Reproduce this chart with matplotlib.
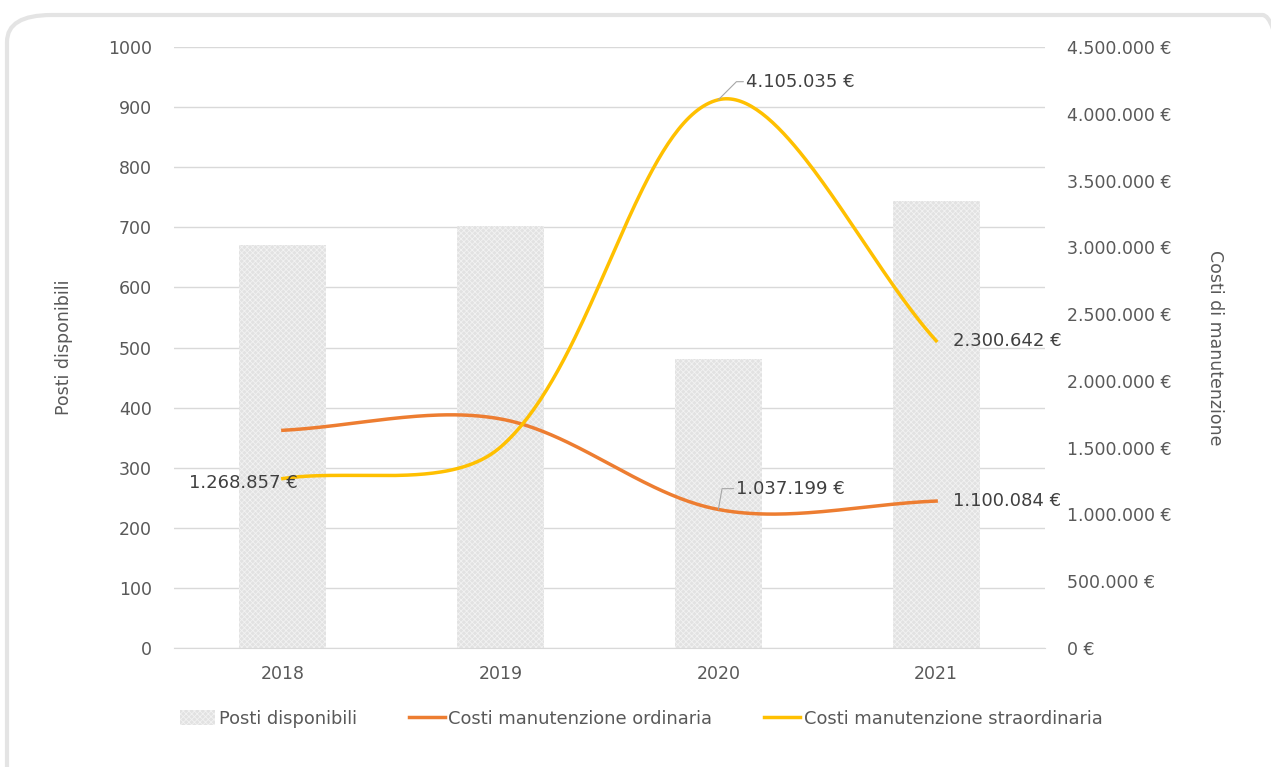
import numpy as np
import matplotlib
matplotlib.use("Agg")
import matplotlib.pyplot as plt
from matplotlib.patches import FancyBboxPatch
from matplotlib.ticker import FuncFormatter

plt.rcParams['font.family'] = ['DejaVu Sans']
plt.rcParams['hatch.linewidth'] = 0.6

# data
anni = ["2018", "2019", "2020", "2021"]
posti = [671, 702, 481, 744]
costi_ordinaria = [1630000, 1715000, 1037199, 1100084]
costi_straordinaria = [1268857, 1505000, 4105035, 2300642]

GRAY = "#595959"
GRID = "#d9d9d9"
ORANGE = "#ed7d31"
YELLOW = "#ffc000"
FS = 12.5


def smooth(axis, x, y, n=80):
    # Excel-like smoothed line: bezier through the points, tangents
    # split by the on-screen length of the neighbouring segments
    pts = axis.transData.transform(np.column_stack([x, y]).astype(float))
    m = len(pts)
    d = np.linalg.norm(np.diff(pts, axis=0), axis=1)
    out = []
    for i in range(m - 1):
        p1, p2 = pts[i], pts[i + 1]
        p0 = pts[i - 1] if i > 0 else p1
        p3 = pts[i + 2] if i + 2 < m else p2
        d0 = d[i - 1] if i > 0 else 0.0
        d2 = d[i + 1] if i + 2 < m else 0.0
        c1 = p1 + (p2 - p0) / 3 * d[i] / (d0 + d[i])
        c2 = p2 - (p3 - p1) / 3 * d[i] / (d[i] + d2)
        t = np.linspace(0, 1, n)[:, None]
        out.append((1 - t) ** 3 * p1 + 3 * (1 - t) ** 2 * t * c1
                   + 3 * (1 - t) * t ** 2 * c2 + t ** 3 * p2)
    seg = axis.transData.inverted().transform(np.vstack(out))
    return seg[:, 0], seg[:, 1]


def euro(v, pos=None):
    return f"{int(round(v)):,}".replace(",", ".") + " €"


fig = plt.figure(figsize=(12.71, 7.67), dpi=100)

# rounded frame around the chart (runs off the right and bottom edges)
frame = FancyBboxPatch((7 / 1271, -0.2), 1300 / 1271, 1.2 - 15 / 767,
                       boxstyle="round,pad=0,rounding_size=0.035",
                       transform=fig.transFigure, facecolor="none",
                       edgecolor="#e4e4e4", linewidth=3, zorder=-1)
fig.patches.append(frame)

ax = fig.add_axes([174 / 1271, 1 - 648 / 767, (1045 - 174) / 1271, (648 - 47) / 767])
ax.set_facecolor("none")
x = np.arange(len(anni))

bars = ax.bar(x, posti, width=0.4, color="#e2e2e2", edgecolor="#f2f2f2", hatch="xxxxxx",
              linewidth=0, zorder=2, label="Posti disponibili")
ax.set_xlim(-0.5, len(anni) - 0.5)
ax.set_ylim(0, 1000)
ax.set_yticks(np.arange(0, 1001, 100))
ax.grid(axis="y", color=GRID, linewidth=1, zorder=0)
ax.set_axisbelow(True)
ax.set_xticks(x)
ax.set_xticklabels(anni)
ax.tick_params(length=0, colors=GRAY, labelsize=FS)
ax.tick_params(axis="y", pad=16)
ax.tick_params(axis="x", pad=12)
for s in ax.spines.values():
    s.set_visible(False)
ax.spines["bottom"].set_visible(True)
ax.spines["bottom"].set_color(GRID)
ax.set_ylabel("Posti disponibili", color=GRAY, fontsize=FS, labelpad=25)

ax2 = ax.twinx()
ax2.set_ylim(0, 4500000)
ax2.set_yticks(np.arange(0, 4500001, 500000))
ax2.yaxis.set_major_formatter(FuncFormatter(euro))
ax2.tick_params(length=0, colors=GRAY, labelsize=FS, pad=16)
for s in ax2.spines.values():
    s.set_visible(False)
ax2.set_ylabel("Costi di manutenzione", color=GRAY, fontsize=FS, rotation=270, labelpad=38)

sx, sy = smooth(ax2, x, costi_ordinaria)
l1, = ax2.plot(sx, sy, color=ORANGE, linewidth=2.5, zorder=3,
               label="Costi manutenzione ordinaria")
sx, sy = smooth(ax2, x, costi_straordinaria)
l2, = ax2.plot(sx, sy, color=YELLOW, linewidth=2.5, zorder=3,
               label="Costi manutenzione straordinaria")

lab = dict(color="#404040", fontsize=13, va="center")
lead = dict(arrowstyle="-", color="#a6a6a6", lw=0.8, shrinkA=0, shrinkB=0,
            relpos=(0, 0.5), connectionstyle="angle,angleA=0,angleB=45,rad=0")
ax2.annotate(euro(costi_straordinaria[0]), (x[0], costi_straordinaria[0]),
             xytext=(11, -3), textcoords="offset points", ha="right", **lab)
ax2.annotate(euro(costi_straordinaria[2]), (x[2], costi_straordinaria[2]),
             xytext=(20, 13), textcoords="offset points", ha="left",
             arrowprops=lead, **lab)
ax2.annotate(euro(costi_straordinaria[3]), (x[3], costi_straordinaria[3]),
             xytext=(12, 0), textcoords="offset points", ha="left", **lab)
ax2.annotate(euro(costi_ordinaria[2]), (x[2], costi_ordinaria[2]),
             xytext=(13, 15), textcoords="offset points", ha="left",
             arrowprops=dict(lead, connectionstyle="angle,angleA=0,angleB=80,rad=0"), **lab)
ax2.annotate(euro(costi_ordinaria[3]), (x[3], costi_ordinaria[3]),
             xytext=(12, 0), textcoords="offset points", ha="left", **lab)

handles = [bars, l1, l2]
labels = ["Posti disponibili", l1.get_label(), l2.get_label()]
fig.legend(handles, labels, loc="center",
           bbox_to_anchor=(641 / 1271, 1 - 719 / 767), ncol=3, frameon=False,
           fontsize=12.9, labelcolor=GRAY, handlelength=2.0, handletextpad=0.2,
           columnspacing=2.9, handleheight=0.9)

fig.savefig("out.png", dpi=100)
